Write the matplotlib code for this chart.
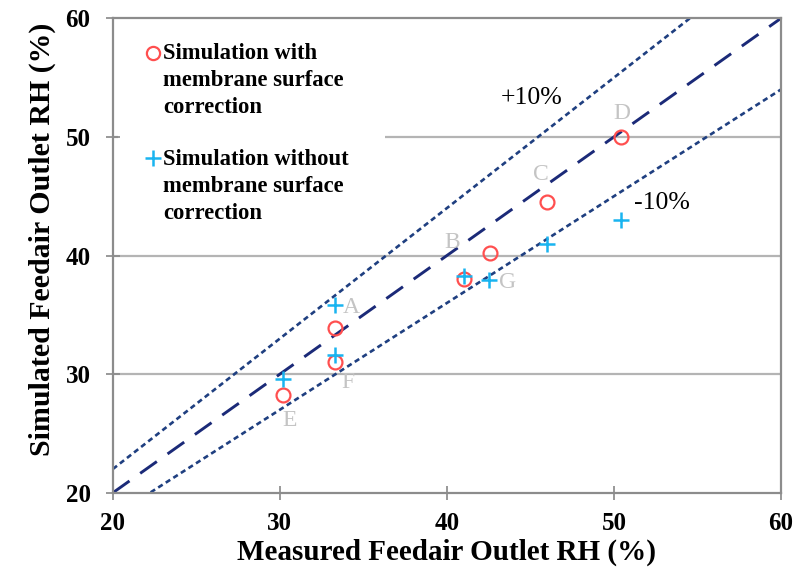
"""Simulated vs measured feedair outlet RH parity plot."""

import matplotlib
matplotlib.use("Agg")
import matplotlib.pyplot as plt
import numpy as np
from matplotlib.patches import Rectangle

plt.rcParams["font.family"] = ["Liberation Serif", "DejaVu Serif"]

# data
measured_rh = [30.2, 33.3, 33.3, 41.0, 42.6, 46.0, 50.4]
sim_with_corr = [28.25, 33.9, 31.0, 38.0, 40.2, 44.5, 50.0]
measured_rh_no = [30.2, 33.3, 33.3, 41.0, 42.5, 46.0, 50.4]
sim_without_corr = [29.6, 35.8, 31.6, 38.3, 37.9, 41.0, 43.0]

point_labels = ["E", "A", "F", "B", "G", "C", "D"]
label_pos = [(30.6, 26.1), (34.3, 35.6), (34.1, 29.3), (40.3, 41.1),
             (43.6, 37.7), (45.6, 46.8), (50.5, 52.0)]

ticks = [20, 30, 40, 50, 60]

RED = "#ff4f4f"
BLUE = "#19b4f0"

fig = plt.figure(figsize=(8.06, 5.71), dpi=100)
ax = fig.add_axes([0.140, 0.137, 0.829, 0.831])
ax.set_xlim(20, 60)
ax.set_ylim(20, 60)

for g in [30, 40, 50]:
    ax.axhline(g, color="#b4b4b4", lw=1.6, zorder=0)

xs = np.array([20, 60])
ax.plot(xs, xs, color="#1b2a78", lw=2.1, dashes=(7, 4.5), zorder=2)
ax.plot(xs, 1.1 * xs, color="#1f3f80", lw=1.9, dashes=(2, 1.4), zorder=2)
ax.plot(xs, 0.9 * xs, color="#1f3f80", lw=1.9, dashes=(2, 1.4), zorder=2)

ax.plot(measured_rh, sim_with_corr, "o", ms=10, mfc="none", mec=RED, mew=1.6, zorder=3)
ax.plot(measured_rh_no, sim_without_corr, "+", ms=12, mec=BLUE, mew=1.8, zorder=4)

for lab, (lx, ly) in zip(point_labels, label_pos):
    ax.text(lx, ly, lab, color="#c4c4c4", fontsize=17, ha="center", va="center")

ax.text(45.1, 53.3, "+10%", fontsize=18.5, ha="center", va="center")
ax.text(52.9, 44.4, "-10%", fontsize=18.5, ha="center", va="center")

# hand-made legend on a white patch that hides the grid line
ax.add_patch(Rectangle((20.3, 42.3), 16.0, 17.0, facecolor="white", edgecolor="none", zorder=1))
ax.plot([22.4], [57.1], "o", ms=9.5, mfc="none", mec=RED, mew=1.6, zorder=3)
ax.plot([22.4], [48.2], "+", ms=11, mec=BLUE, mew=1.8, zorder=3)
ax.text(23.0, 57.1 + 0.8, "Simulation with\nmembrane surface\ncorrection", fontsize=16.3,
        fontweight="bold", ha="left", va="top", linespacing=1.38, zorder=3)
ax.text(23.0, 48.2 + 0.8, "Simulation without\nmembrane surface\ncorrection", fontsize=16.3,
        fontweight="bold", ha="left", va="top", linespacing=1.38, zorder=3)

ax.set_xticks(ticks)
ax.set_yticks(ticks)
ax.tick_params(direction="inout", length=10, width=1.2, color="#888888", labelsize=18)
ax.tick_params(axis="x", pad=9)
ax.tick_params(axis="y", pad=11)
for lbl in ax.get_xticklabels() + ax.get_yticklabels():
    lbl.set_fontweight("bold")
for s in ax.spines.values():
    s.set_color("#8c8c8c")
    s.set_linewidth(1.6)

ax.text(0.5, -0.126, "Measured Feedair Outlet RH (%)", fontsize=21, fontweight="bold",
        ha="center", va="center", transform=ax.transAxes)
ax.text(-0.105, 0.535, "Simulated Feedair Outlet RH (%)", fontsize=21.5, fontweight="bold",
        ha="center", va="center", rotation=90, transform=ax.transAxes)

fig.savefig("out.png", dpi=100)
